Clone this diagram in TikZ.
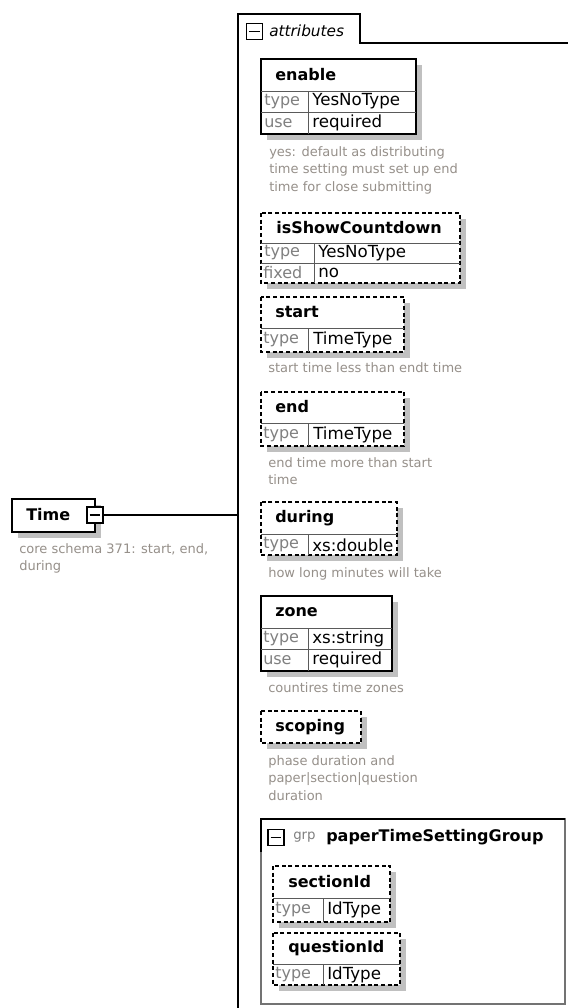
\documentclass[tikz,border=0pt]{standalone}
\usepackage{fontspec}
\setmainfont{DejaVu Sans}
\definecolor{shadowgray}{RGB}{192,192,192}
\definecolor{descgray}{RGB}{150,144,138}
\definecolor{keygray}{RGB}{128,128,128}
\definecolor{gridgray}{RGB}{90,90,90}
\newcommand\xframe[5]{%
  \fill[shadowgray] (#2+6,#3+6) rectangle (#4+6,#5+6);
  \draw[#1] (#2,#3) rectangle (#4,#5);}
\begin{document}
\begin{tikzpicture}[x=0.75pt,y=-0.75pt,
  solidbox/.style={draw=black,line width=0.9pt,fill=white},
  dashbox/.style={draw=black,line width=0.9pt,fill=white,dash pattern=on 3pt off 2pt},
  gridline/.style={draw=gridgray,line width=0.6pt},
  title/.style={anchor=west,inner sep=0pt,font=\bfseries\fontsize{12}{14}\selectfont},
  keytxt/.style={anchor=west,inner sep=0pt,text=keygray,font=\fontsize{12}{14}\selectfont},
  valtxt/.style={anchor=west,inner sep=0pt,font=\fontsize{12.5}{14}\selectfont},
  desc/.style={anchor=north west,inner sep=0pt,align=left,text=descgray,font=\fontsize{9.75}{13.1}\selectfont},
  iconbox/.style={draw=black,line width=1.2pt,fill=white,minimum size=12pt,inner sep=0pt}]
\useasboundingbox (0,0) rectangle (568,1008);
\fill[white] (0,0) rectangle (568,1008);

% attributes frame
\draw[line width=0.9pt] (238,1010) -- (238,14) -- (360,14) -- (360,43) -- (570,43);
\node[iconbox] (attrIcon) at (254.5,31.5) {};
\draw[line width=1pt] ([xshift=2.5pt]attrIcon.west) -- ([xshift=-2.5pt]attrIcon.east);
\node[anchor=west,inner sep=0pt,font=\itshape\fontsize{11.5}{13}\selectfont] (attrLabel) at (269,31) {attributes};
\coordinate (attrEdge) at (238,515);

% Time
\xframe{solidbox}{12}{499}{95}{532}
\node[title] (timeT) at (26,515) {Time};
\node[iconbox] (timeIcon) at (95,515) {};
\draw[line width=1pt] ([xshift=2.5pt]timeIcon.west) -- ([xshift=-2.5pt]timeIcon.east);
\draw[line width=0.9pt] (timeIcon.east) -- (attrEdge);
\node[desc] (timeD) at (19,543) {core schema 371: start, end,\\during};

% enable
\xframe{solidbox}{261}{59}{416}{134}
\draw[gridline] (261,91) -- (416,91) (261,112) -- (416,112) (308,91) -- (308,134);
\node[title] (enT) at (275,75) {enable};
\node[keytxt] (enK1) at (264,101.5) {type};
\node[valtxt] (enV1) at (312,101.5) {YesNoType};
\node[keytxt] (enK2) at (264,123) {use};
\node[valtxt] (enV2) at (312,123) {required};
\node[desc] (enD) at (269,146) {yes: default as distributing\\time setting must set up end\\time for close submitting};

% isShowCountdown
\xframe{dashbox}{261}{213}{460}{283}
\draw[gridline] (261,243) -- (460,243) (261,263) -- (460,263) (314,243) -- (314,283);
\node[title] (scT) at (276,228) {isShowCountdown};
\node[keytxt] (scK1) at (264,253) {type};
\node[valtxt] (scV1) at (318,253) {YesNoType};
\node[keytxt] (scK2) at (263,273) {fixed};
\node[valtxt] (scV2) at (318,273) {no};

% start
\xframe{dashbox}{261}{297}{404}{352}
\draw[gridline] (261,328) -- (404,328) (308,328) -- (308,352);
\node[title] (stT) at (275,312) {start};
\node[keytxt] (stK1) at (263,340) {type};
\node[valtxt] (stV1) at (313,340) {TimeType};
\node[desc] (stD) at (268,362) {start time less than endt time};

% end
\xframe{dashbox}{261}{392}{404}{446}
\draw[gridline] (261,423) -- (404,423) (308,423) -- (308,446);
\node[title] (ndT) at (275,407) {end};
\node[keytxt] (ndK1) at (263,435) {type};
\node[valtxt] (ndV1) at (313,435) {TimeType};
\node[desc] (ndD) at (268,457) {end time more than start\\time};

% during
\xframe{dashbox}{261}{502}{397}{555}
\draw[gridline] (261,534) -- (397,534) (308,534) -- (308,555);
\node[title] (duT) at (275,518) {during};
\node[keytxt] (duK1) at (263,545) {type};
\node[valtxt] (duV1) at (312,545) {xs:double};
\node[desc] (duD) at (268,567) {how long minutes will take};

% zone
\xframe{solidbox}{261}{596}{392}{671}
\draw[gridline] (261,628) -- (392,628) (261,649) -- (392,649) (308,628) -- (308,671);
\node[title] (zoT) at (275,612) {zone};
\node[keytxt] (zoK1) at (263,638.5) {type};
\node[valtxt] (zoV1) at (312,638.5) {xs:string};
\node[keytxt] (zoK2) at (263,660) {use};
\node[valtxt] (zoV2) at (312,660) {required};
\node[desc] (zoD) at (268,682) {countires time zones};

% scoping
\xframe{dashbox}{261}{711}{361}{743}
\node[title] (spT) at (275,727) {scoping};
\node[desc] (spD) at (268,755) {phase duration and\\paper|section|question\\duration};

% group
\draw[draw=black!55,line width=0.8pt] (261,819) rectangle (565,1004);
\draw[line width=0.9pt] (261,852) -- (261,819) -- (565,819);
\node[iconbox] (grpIcon) at (276,837.5) {};
\draw[line width=1pt] ([xshift=2.5pt]grpIcon.west) -- ([xshift=-2.5pt]grpIcon.east);
\node[anchor=west,inner sep=0pt,text=keygray,font=\fontsize{10}{12}\selectfont] (grpK) at (293,837) {grp};
\node[title] (grpT) at (326,837) {paperTimeSettingGroup};

% sectionId
\xframe{dashbox}{273}{866}{390}{922}
\draw[gridline] (273,898) -- (390,898) (323,898) -- (323,922);
\node[title] (seT) at (288,882) {sectionId};
\node[keytxt] (seK1) at (275,910) {type};
\node[valtxt] (seV1) at (327,910) {IdType};

% questionId
\xframe{dashbox}{273}{933}{400}{985}
\draw[gridline] (273,964) -- (400,964) (323,964) -- (323,985);
\node[title] (quT) at (288,948) {questionId};
\node[keytxt] (quK1) at (275,975) {type};
\node[valtxt] (quV1) at (327,975) {IdType};
\end{tikzpicture}
\end{document}
